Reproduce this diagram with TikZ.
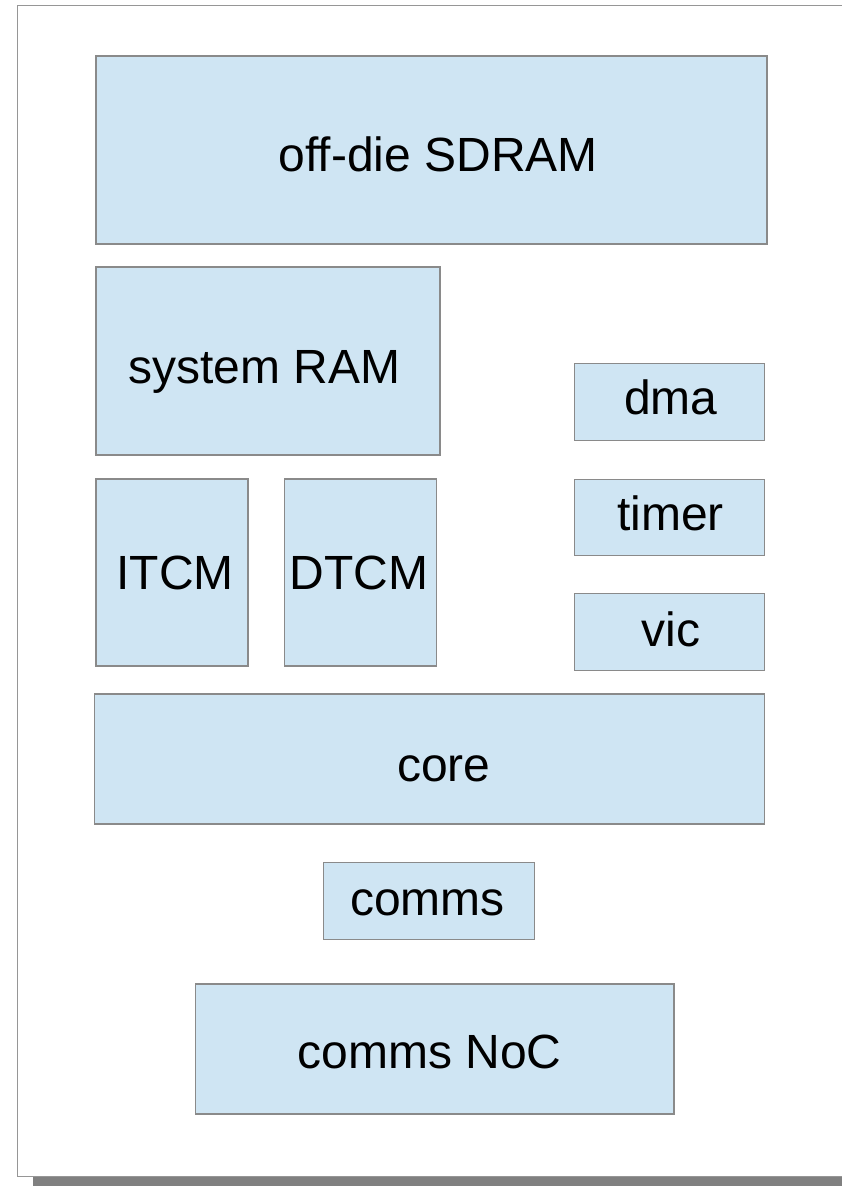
\documentclass[tikz,border=0pt]{standalone}
\usepackage{fontspec}
\setmainfont{Liberation Sans}
\definecolor{blkfill}{RGB}{207,229,243}
\definecolor{blkline}{RGB}{138,138,138}
\definecolor{pageline}{RGB}{150,150,150}
\definecolor{pageshadow}{RGB}{128,128,128}
\tikzset{
  blk/.style={draw=blkline, fill=blkfill, line width=1.2pt, rectangle, inner sep=0pt},
  lbl/.style={anchor=base, inner sep=0pt, font=\fontsize{48}{56}\selectfont, text=black},
}
\begin{document}
\begin{tikzpicture}[x=1pt, y=-1pt]
  \useasboundingbox (0,0) rectangle (842,1186);
  % page outline and its drop shadow
  \fill[pageshadow] (32.5,1177) rectangle (842,1186);
  \draw[pageline, line width=1.2pt] (842,5.5) -- (17.5,5.5) -- (17.5,1176.5) -- (842,1176.5);

  % memory and peripheral blocks: centre, width, height
  \node[blk, minimum width=671pt, minimum height=188pt] (sdram)  at (431.5,150)  {};
  \node[blk, minimum width=344pt, minimum height=188pt] (sysram) at (268,361)    {};
  \node[blk, minimum width=190.5pt, minimum height=77pt] (dma)   at (669.5,401.7) {};
  \node[blk, minimum width=190.5pt, minimum height=76pt] (timer) at (669.5,517.2) {};
  \node[blk, minimum width=190.5pt, minimum height=77pt] (vic)   at (669.5,631.7) {};
  \node[blk, minimum width=152pt, minimum height=187pt] (itcm)   at (172,572.5)  {};
  \node[blk, minimum width=152pt, minimum height=187pt] (dtcm)   at (360.2,572.5) {};
  \node[blk, minimum width=670pt, minimum height=130pt] (core)   at (429.5,759)  {};
  \node[blk, minimum width=211pt, minimum height=76.5pt] (comms) at (428.7,901)  {};
  \node[blk, minimum width=478.5pt, minimum height=130pt] (noc)  at (434.8,1049) {};

  % block names, placed on their baselines
  \node[lbl] (sdramT)  at (438.3,171.7) {off-die SDRAM};
  \node[lbl] (sysramT) at (264.5,383.3) {system RAM};
  \node[lbl] (dmaT)    at (670.8,414)   {dma};
  \node[lbl] (timerT)  at (670.5,530)   {timer};
  \node[lbl] (vicT)    at (671,646)     {vic};
  \node[lbl] (itcmT)   at (175,589)     {ITCM};
  \node[lbl] (dtcmT)   at (358.7,589)   {DTCM};
  \node[lbl] (coreT)   at (443.8,781.5) {core};
  \node[lbl] (commsT)  at (427.5,915.7) {comms};
  \node[lbl] (nocT)    at (429.7,1068.3) {comms NoC};
\end{tikzpicture}
\end{document}
